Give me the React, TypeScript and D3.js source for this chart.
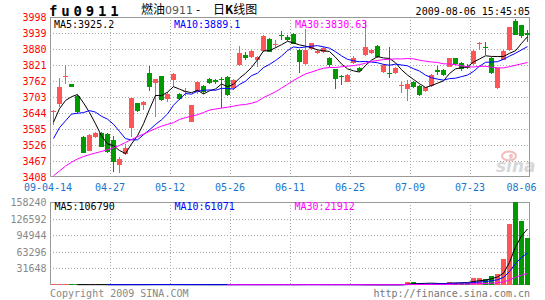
import React from "react";
import * as d3 from "d3";

// ---- data ----
const opens = [
  3646, 3677, 3776, 3751, 3707, 3556, 3505, 3556, 3571, 3565,
  3545, 3452, 3492, 3590, 3680, 3674, 3793, 3756, 3780, 3694,
  3764, 3714, 3720, 3612, 3723, 3744, 3768, 3764, 3768, 3778,
  3735, 3821, 3858, 3849, 3840, 3874, 3916, 3896, 3933, 3926,
  3935, 3876, 3825, 3879, 3864, 3870, 3846, 3805, 3781, 3759,
  3827, 3809, 3858, 3864, 3891, 3796, 3792, 3790, 3745, 3731,
  3759, 3744, 3726, 3744, 3802, 3803, 3815, 3846, 3827, 3816,
  3825, 3899, 3887, 3848, 3735, 3840, 3876, 3984, 3968, 3938,
];
const highs = [
  3655, 3772, 3821, 3752, 3710, 3558, 3568, 3575, 3573, 3569,
  3559, 3483, 3528, 3700, 3682, 3688, 3817, 3771, 3782, 3720,
  3790, 3718, 3735, 3675, 3762, 3748, 3772, 3770, 3778, 3780,
  3770, 3890, 3870, 3878, 3855, 3930, 3920, 3913, 3946, 3933,
  3940, 3880, 3954, 3903, 3877, 3887, 3850, 3808, 3783, 3786,
  3854, 3812, 3985, 3879, 3893, 3823, 3886, 3812, 3759, 3766,
  3762, 3746, 3741, 3786, 3817, 3808, 3848, 3848, 3833, 3824,
  3876, 3904, 3907, 3850, 3811, 3876, 3962, 3990, 3970, 3950,
];
const lows = [
  3600, 3667, 3751, 3739, 3645, 3495, 3503, 3553, 3518, 3495,
  3428, 3422, 3489, 3556, 3647, 3655, 3726, 3630, 3690, 3685,
  3740, 3692, 3705, 3610, 3715, 3715, 3750, 3750, 3661, 3705,
  3730, 3818, 3840, 3845, 3815, 3870, 3868, 3882, 3913, 3910,
  3898, 3791, 3820, 3875, 3860, 3865, 3815, 3733, 3748, 3757,
  3825, 3797, 3855, 3862, 3847, 3792, 3772, 3786, 3719, 3690,
  3738, 3708, 3722, 3740, 3784, 3782, 3812, 3820, 3800, 3805,
  3822, 3878, 3858, 3787, 3733, 3838, 3872, 3930, 3922, 3907,
];
const closes = [
  3652, 3739, 3781, 3740, 3649, 3497, 3563, 3571, 3520, 3500,
  3465, 3473, 3514, 3698, 3650, 3686, 3741, 3769, 3693, 3715,
  3788, 3695, 3724, 3673, 3759, 3721, 3753, 3757, 3765, 3710,
  3766, 3864, 3846, 3874, 3852, 3928, 3870, 3899, 3930, 3914,
  3900, 3833, 3876, 3901, 3874, 3883, 3821, 3768, 3778, 3784,
  3846, 3799, 3889, 3876, 3850, 3821, 3790, 3809, 3748, 3751,
  3741, 3711, 3739, 3784, 3794, 3785, 3846, 3825, 3805, 3810,
  3874, 3902, 3884, 3793, 3809, 3874, 3960, 3932, 3929, 3931,
];
// closes before 09-04-14, estimated so the MA lines start where they do in the picture
const priorCloses = [
  3199, 3241, 3320, 3289, 3227, 3353, 3391, 3340, 3320, 3255,
  3203, 3184, 3368, 3350, 3386, 3441, 3469, 3423, 3505, 3608,
  3339, 3531, 3490, 3619, 3471, 3489, 3631, 3670, 3608,
];
const volumes = [
  620, 540, 480, 510, 700, 820, 560, 430, 610, 580,
  720, 490, 530, 880, 640, 560, 900, 610, 720, 540,
  660, 590, 480, 700, 530, 610, 470, 520, 760, 650,
  580, 840, 610, 520, 470, 880, 690, 540, 620, 570,
  700, 820, 960, 540, 480, 510, 630, 880, 560, 490,
  300, 350, 400, 300, 350, 400, 450, 500, 600, 4800,
  4800, 3000, 2600, 2200, 2400, 3200, 6500, 4500, 4500, 4500,
  13500, 13500, 10500, 17500, 21770, 49000, 116500, 158240, 121500, 88700,
];
const priceTicks = [3998, 3939, 3880, 3821, 3762, 3703, 3644, 3585, 3526, 3467, 3408];
const volTicks = [158240, 126592, 94944, 63296, 31648];
const dateLabels = ["09-04-14", "04-27", "05-12", "05-26", "06-11", "06-25", "07-09", "07-23", "08-06"];
const priceMaLabels = ["MA5:3925.2", "MA10:3889.1", "MA30:3830.63"];
const volMaLabels = ["MA5:106790", "MA10:61071", "MA30:21912"];
const symbol = "fu0911";
const timeStamp = "2009-08-06 15:45:05";

const RED = "#ff5555";
const GREEN = "#009900";
const MA_COLORS = ["#000000", "#0000ff", "#ff00ff"];
const MONO = "'DejaVu Sans Mono', monospace";

export default function App() {
  const n = closes.length;
  const xSlot = d3.scaleLinear().domain([0, n]).range([50, 530]);
  const cx = (i: number) => Math.round(xSlot(i)) + 3.5;
  const yP = d3.scaleLinear().domain([3408, 3998]).range([177, 17]);
  const yV = d3.scaleLinear().domain([0, 158240]).range([285, 202]);

  const P = priorCloses.length;
  const all = priorCloses.concat(closes);
  const priceMA = (k: number) =>
    closes.map((_, i) => d3.mean(all.slice(i + P - k + 1, i + P + 1)) as number);
  const volMA = (k: number) =>
    volumes.map((_, i) => (i >= k - 1 ? (d3.mean(volumes.slice(i - k + 1, i + 1)) as number) : null));

  const linePrice = d3
    .line<number>()
    .x((_, i) => cx(i))
    .y((d) => yP(d));
  const lineVol = d3
    .line<number | null>()
    .defined((d) => d != null)
    .x((_, i) => cx(i))
    .y((d) => yV(d as number));

  const gridXs = d3.range(1, 8).map((k) => Math.round(xSlot(k * 10)) + 0.5);
  const labelXs = d3.range(0, 9).map((k) => xSlot(k * 10));
  labelXs[0] -= 2;
  labelXs[8] -= 8.5;

  return (
    <svg
      width={545}
      height={300}
      style={{ position: "absolute", left: 0, top: 0, background: "#fff" }}
      fontFamily={MONO}
    >
      <rect x={0} y={0} width={545} height={300} fill="#fff" />
      {/* header */}
      <text x={49} y={16} fontSize={14} fontWeight="bold" letterSpacing={3.8} fill="#000">
        {symbol}
      </text>
      <text y={14} fontSize={12} fontFamily="'Noto Sans CJK SC', sans-serif" fill="#000">
        <tspan x={141}>燃油</tspan>
        <tspan x={165} fill="#555" fontFamily="'DejaVu Sans', sans-serif" fontSize={11}>0911</tspan>
        <tspan x={196}>-</tspan>
        <tspan x={213}>日</tspan>
        <tspan fontWeight="bold">K</tspan>
        <tspan>线图</tspan>
      </text>
      <text x={530} y={15} fontSize={10} textAnchor="end" fill="#000">
        {timeStamp}
      </text>

      {/* watermark */}
      <g opacity={0.9}>
        <ellipse cx={509} cy={156} rx={7} ry={4.5} fill="none" stroke="#f3b5b5" strokeWidth={2} />
        <circle cx={511} cy={156} r={2} fill="#f3b5b5" />
        <text x={496} y={172} fontSize={17} fontStyle="italic" fontWeight="bold"
          fontFamily="'DejaVu Sans', sans-serif" fill="#d4d4d4">sina</text>
      </g>

      {/* price grid */}
      {priceTicks.slice(1, -1).map((t) => (
        <line key={"pg" + t} x1={50} x2={530} y1={Math.round(yP(t)) + 0.5} y2={Math.round(yP(t)) + 0.5}
          stroke="#aaa" strokeDasharray="1 2" />
      ))}
      {gridXs.map((gx) => (
        <line key={"pv" + gx} x1={gx} x2={gx} y1={17} y2={177} stroke="#aaa" strokeDasharray="1 2" />
      ))}
      <rect x={50.5} y={17.5} width={479} height={159} fill="none" stroke="#999" />
      {priceTicks.map((t) => (
        <text key={"pt" + t} x={46.5} y={Math.round(yP(t)) + 4} fontSize={10} textAnchor="end" fill="#ff0000">
          {t}
        </text>
      ))}
      {dateLabels.map((d, k) => (
        <text key={"d" + d} x={labelXs[k]} y={191} fontSize={10} textAnchor="middle" fill="#1874cd">
          {d}
        </text>
      ))}

      {/* candles */}
      {closes.map((c, i) => {
        const o = opens[i];
        const up = c >= o;
        const col = up ? RED : GREEN;
        const top = Math.round(yP(Math.max(o, c)));
        const bot = Math.round(yP(Math.min(o, c)));
        const x = cx(i);
        return (
          <g key={"c" + i}>
            <line x1={x} x2={x} y1={Math.round(yP(highs[i]))} y2={Math.round(yP(lows[i]))} stroke={col} />
            <rect x={x - 2.5} y={top} width={5} height={Math.max(1, bot - top)} fill={col} />
          </g>
        );
      })}
      {[5, 10, 30].map((k, j) => (
        <path key={"ma" + k} d={linePrice(priceMA(k)) || ""} fill="none" stroke={MA_COLORS[j]} strokeWidth={1} />
      ))}
      {priceMaLabels.map((s, j) => (
        <text key={s} x={[54, 174, 295][j]} y={28} fontSize={10} fill={MA_COLORS[j]}>
          {s}
        </text>
      ))}

      {/* volume panel */}
      {volTicks.slice(1).map((t) => (
        <line key={"vg" + t} x1={50} x2={530} y1={Math.round(yV(t)) + 0.5} y2={Math.round(yV(t)) + 0.5}
          stroke="#aaa" strokeDasharray="1 2" />
      ))}
      {gridXs.map((gx) => (
        <line key={"vv" + gx} x1={gx} x2={gx} y1={202} y2={285} stroke="#aaa" strokeDasharray="1 2" />
      ))}
      <rect x={50.5} y={202.5} width={479} height={82} fill="none" stroke="#999" />
      {volTicks.map((t) => (
        <text key={"vt" + t} x={46.5} y={Math.round(yV(t)) + 4} fontSize={10} textAnchor="end" fill="#888">
          {t}
        </text>
      ))}
      {volumes.map((v, i) => {
        const up = closes[i] >= opens[i];
        const top = Math.min(Math.round(yV(v)), 284);
        return (
          <rect key={"v" + i} x={cx(i) - 2.5} y={top} width={5} height={285 - top} fill={up ? RED : GREEN} />
        );
      })}
      {[5, 10, 30].map((k, j) => (
        <path key={"vma" + k} d={lineVol(volMA(k)) || ""} fill="none" stroke={MA_COLORS[j]} strokeWidth={1} />
      ))}
      {volMaLabels.map((s, j) => (
        <text key={s} x={[54.5, 174.5, 294.5][j]} y={210} fontSize={10} fill={MA_COLORS[j]}>
          {s}
        </text>
      ))}

      {/* footer */}
      <text x={50} y={297} fontSize={10} fill="#888">Copyright 2009 SINA.COM</text>
      <text x={530} y={297} fontSize={10} textAnchor="end" fill="#777">http://finance.sina.com.cn</text>
    </svg>
  );
}
